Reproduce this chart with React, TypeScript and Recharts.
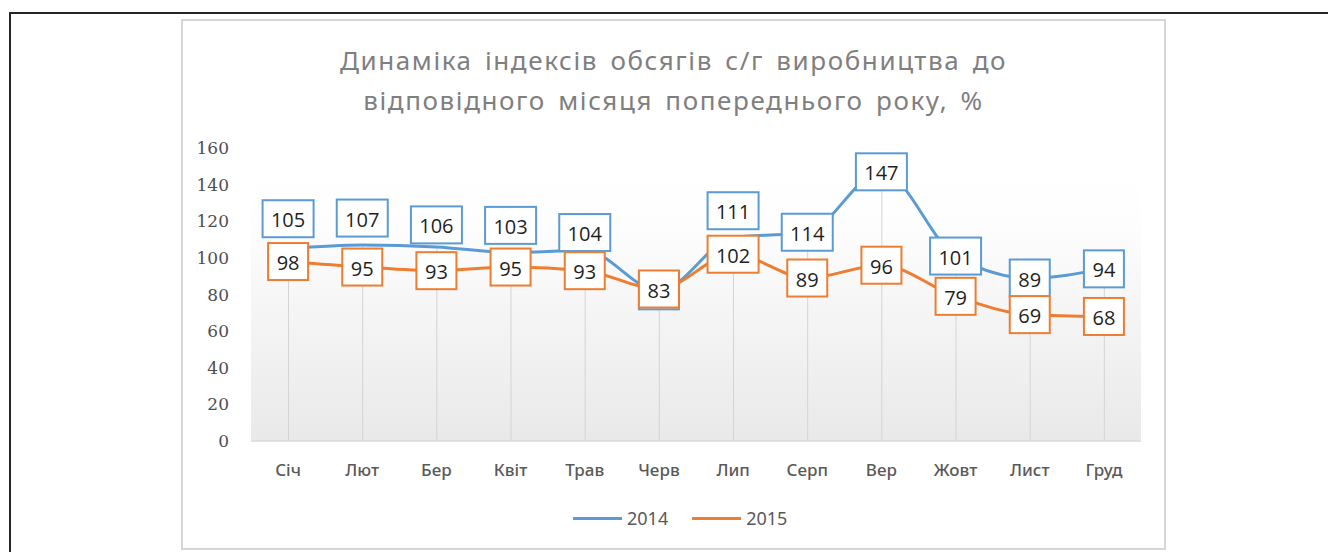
import { ComposedChart, Line, Bar, XAxis, YAxis, ReferenceArea, LabelList } from 'recharts'

const months = ['Січ', 'Лют', 'Бер', 'Квіт', 'Трав', 'Черв', 'Лип', 'Серп', 'Вер', 'Жовт', 'Лист', 'Груд']
const values2014 = [105, 107, 106, 103, 104, 82, 111, 114, 147, 101, 89, 94]
const values2015 = [98, 95, 93, 95, 93, 83, 102, 89, 96, 79, 69, 68]
const yTicks = [0, 20, 40, 60, 80, 100, 120, 140, 160]

// manual label lifts (px) for the 2014 boxes, like the hand-placed labels in the original
const lift2014 = [30, 27, 22, 27, 18, 0, 27, 0, 0, 0, 0, 0]

const BLUE = '#5b9bd5'
const ORANGE = '#ed7d31'

const data = months.map((month, i) => ({
  month,
  y2014: values2014[i],
  y2015: values2015[i],
  drop: Math.max(values2014[i], values2015[i]),
}))

function boxLabel(color: string, lift?: number[]) {
  return (props: any) => {
    const { x, y, value, index } = props
    const txt = String(value)
    const w = txt.length * 11 + 18
    const h = 37
    const cy = y - (lift ? lift[index] : 0)
    return (
      <g>
        <rect x={x - w / 2} y={cy - h / 2} width={w} height={h} fill="#fff" stroke={color} strokeWidth={2} />
        <text x={x} y={cy + 1} textAnchor="middle" dominantBaseline="central" fontSize={20} fill="#1f1f1f" fontFamily="Open Sans">
          {txt}
        </text>
      </g>
    )
  }
}

export default function App() {
  return (
    <div style={{ position: 'absolute', left: 0, top: 0, width: 1328, height: 552, overflow: 'hidden', background: '#fff' }}>
      <div style={{ position: 'absolute', left: 9, top: 12, width: 1340, height: 580, border: '2px solid #262626' }} />
      <div style={{ position: 'absolute', left: 181, top: 19, width: 985, height: 531, boxSizing: 'border-box', border: '2px solid #d6d6d6' }} />
      <div
        style={{
          position: 'absolute', left: 181, top: 40, width: 985, textAlign: 'center',
          fontFamily: 'Noto Sans', fontSize: 26, lineHeight: '40px', color: '#7f7f7f', letterSpacing: 1.6, wordSpacing: 4,
        }}
      >
        Динаміка індексів обсягів с/г виробництва до
        <br />
        відповідного місяця попереднього року, %
      </div>
      <div style={{ position: 'absolute', left: 181, top: 19 }}>
        <ComposedChart width={985} height={531} data={data} margin={{ top: 129, right: 25, left: 10, bottom: 69 }}>
          <defs>
            <linearGradient id="plotBg" x1="0" y1="0" x2="0" y2="1">
              <stop offset="0%" stopColor="#ffffff" />
              <stop offset="23%" stopColor="#fefefe" />
              <stop offset="100%" stopColor="#e9e9e9" />
            </linearGradient>
          </defs>
          <XAxis
            dataKey="month"
            height={40}
            axisLine={{ stroke: '#d9d9d9', strokeWidth: 1.5 }}
            tickLine={false}
            tickMargin={17}
            tick={{ fill: '#595959', fontSize: 17, fontFamily: 'Noto Sans', fontWeight: 500 }}
          />
          <YAxis
            width={60}
            domain={[0, 160]}
            ticks={yTicks}
            axisLine={false}
            tickLine={false}
            tickMargin={16}
            tick={{ fill: '#4f4f4f', fontSize: 17, fontFamily: 'DejaVu Serif' }}
          />
          <ReferenceArea y1={0} y2={160} fill="url(#plotBg)" fillOpacity={1} stroke="none" ifOverflow="visible" />
          <Bar dataKey="drop" barSize={1} fill="#d4d4d4" isAnimationActive={false} legendType="none" />
          <Line type="monotone" dataKey="y2014" stroke={BLUE} strokeWidth={3} dot={false} isAnimationActive={false}>
            <LabelList dataKey="y2014" content={boxLabel(BLUE, lift2014)} />
          </Line>
          <Line type="monotone" dataKey="y2015" stroke={ORANGE} strokeWidth={3} dot={false} isAnimationActive={false}>
            <LabelList dataKey="y2015" content={boxLabel(ORANGE)} />
          </Line>
        </ComposedChart>
      </div>
      <div
        style={{
          position: 'absolute', left: 573, top: 506, height: 24, display: 'flex', alignItems: 'center',
          fontFamily: 'Noto Sans', fontSize: 18, color: '#595959',
        }}
      >
        <span style={{ display: 'inline-block', width: 49, height: 3, background: BLUE, marginRight: 5 }} />
        <span style={{ marginRight: 24 }}>2014</span>
        <span style={{ display: 'inline-block', width: 49, height: 3, background: ORANGE, marginRight: 5 }} />
        <span>2015</span>
      </div>
    </div>
  )
}
